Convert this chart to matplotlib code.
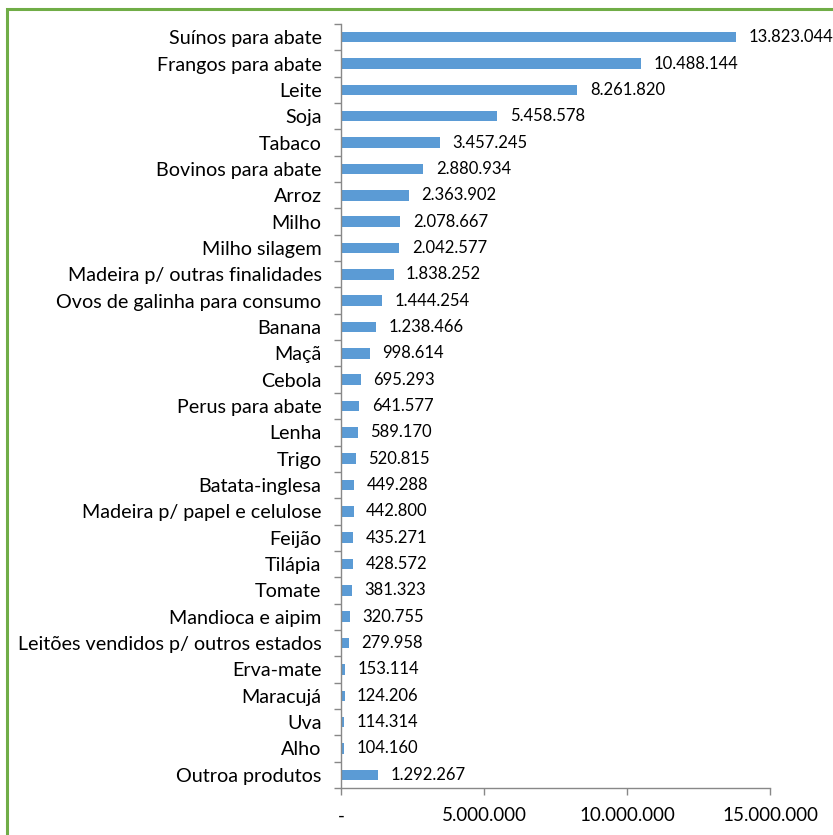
import matplotlib
matplotlib.use("Agg")
import matplotlib.pyplot as plt
from matplotlib.patches import Rectangle
from matplotlib.ticker import FuncFormatter, FixedLocator
import numpy as np

plt.rcParams['font.family'] = ['Lato', 'DejaVu Sans']

produtos = ["Suínos para abate", "Frangos para abate", "Leite", "Soja", "Tabaco",
            "Bovinos para abate", "Arroz", "Milho", "Milho silagem",
            "Madeira p/ outras finalidades", "Ovos de galinha para consumo", "Banana",
            "Maçã", "Cebola", "Perus para abate", "Lenha", "Trigo", "Batata-inglesa",
            "Madeira p/ papel e celulose", "Feijão", "Tilápia", "Tomate",
            "Mandioca e aipim", "Leitões vendidos p/ outros estados", "Erva-mate",
            "Maracujá", "Uva", "Alho", "Outroa produtos"]
valores = [13823044, 10488144, 8261820, 5458578, 3457245, 2880934, 2363902, 2078667,
           2042577, 1838252, 1444254, 1238466, 998614, 695293, 641577, 589170, 520815,
           449288, 442800, 435271, 428572, 381323, 320755, 279958, 153114, 124206,
           114314, 104160, 1292267]


def br(v):
    return f"{v:,.0f}".replace(",", ".")


W, H = 833, 835
fig = plt.figure(figsize=(W / 100, H / 100), dpi=100)
ax = fig.add_axes([341 / W, 1 - 788 / H, (770 - 341) / W, (788 - 24) / H])

n = len(produtos)
y = np.arange(n)
ax.barh(y, valores, height=0.4, color="#5B9BD5")
ax.set_ylim(n - 0.5, -0.5)
ax.set_xlim(0, 15000000)

for yi, v in zip(y, valores):
    ax.annotate(br(v), (v, yi), textcoords="offset points", xytext=(9, 0),
                ha="left", va="center", fontsize=12, color="black")

ax.set_yticks(y)
ax.set_yticklabels(produtos, fontsize=14.2)
ax.yaxis.set_minor_locator(FixedLocator(np.arange(-0.5, n, 1.0)))
ax.tick_params(axis="y", which="major", length=0, pad=14)
ax.tick_params(axis="y", which="minor", length=5, color="#888888", width=1)

ax.set_xticks([0, 5000000, 10000000, 15000000])
ax.xaxis.set_major_formatter(FuncFormatter(lambda v, p: "-" if v == 0 else br(v)))
ax.tick_params(axis="x", length=5, color="#888888", width=1, labelsize=13.5, pad=9)

for s in ["top", "right"]:
    ax.spines[s].set_visible(False)
for s in ["left", "bottom"]:
    ax.spines[s].set_color("#888888")
    ax.spines[s].set_linewidth(1)

# green frame (cut off at the right and bottom edges)
fig.patches.append(Rectangle((7 / W, -0.2), 1.2, 1 - 9 / H + 0.2, transform=fig.transFigure,
                             fill=False, edgecolor="#70AD47", linewidth=2.2, zorder=10))

fig.savefig("out.png", dpi=100)
